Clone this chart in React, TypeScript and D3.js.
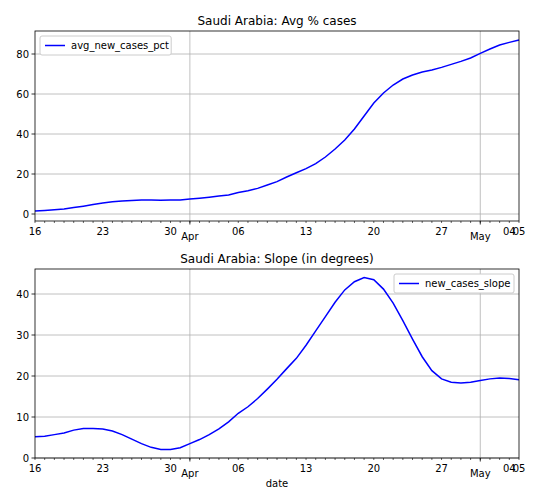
import React from "react"
import * as d3 from "d3"

const startDate = new Date(2020, 2, 16)
const avgNewCasesPct = [1.5, 1.8, 2.1, 2.5, 3.2, 3.9, 4.7, 5.5, 6.1, 6.5, 6.8, 7, 7, 6.9, 7, 7, 7.5, 7.9, 8.4, 9, 9.5, 10.7, 11.6, 12.8, 14.5, 16.2, 18.5, 20.6, 22.7, 25.2, 28.5, 32.5, 37, 42.5, 49, 55.5, 60.5, 64.5, 67.5, 69.5, 71, 72, 73.3, 74.8, 76.3, 78, 80.3, 82.5, 84.5, 85.8, 87]
const newCasesSlope = [5.2, 5.3, 5.7, 6.1, 6.8, 7.2, 7.2, 7.1, 6.6, 5.7, 4.6, 3.5, 2.6, 2.1, 2.1, 2.5, 3.5, 4.5, 5.7, 7.1, 8.8, 10.9, 12.5, 14.5, 16.8, 19.2, 21.8, 24.3, 27.5, 31, 34.5, 38, 41, 43, 44, 43.5, 41.2, 37.8, 33.5, 29, 24.7, 21.3, 19.3, 18.5, 18.3, 18.5, 18.9, 19.3, 19.5, 19.4, 19.1]
const minorLabels = ["16", "23", "30", "06", "13", "20", "27", "04", "05"]
const minorLabelDates = [16, 23, 30, 37, 44, 51, 58, 65, 66].map((d) => new Date(2020, 2, d))
const majorDates = [new Date(2020, 3, 1), new Date(2020, 4, 1)]
const majorLabels = ["Apr", "May"]

const dates = avgNewCasesPct.map((_, i) => d3.timeDay.offset(startDate, i))
const font = "DejaVu Sans, sans-serif"

function Panel({ top, bottom, title, values, yDomain, yTicks, legend, legendRight, showXLabel }: any) {
  const left = 35, right = 519
  const x = d3.scaleTime().domain([dates[0], dates[dates.length - 1]]).range([left, right])
  const y = d3.scaleLinear().domain(yDomain).range([bottom, top])
  const line = d3.line<number>().x((_, i) => x(dates[i])).y((d) => y(d))
  const lw = legend.length * 5.6 + 36
  const lx = legendRight ? right - 5 - lw : left + 5
  return (
    <g fontFamily={font}>
      <text x={(left + right) / 2} y={top - 6} textAnchor="middle" fontSize={12}>{title}</text>
      {yTicks.map((t: number) => (
        <g key={t}>
          <line x1={left} x2={right} y1={y(t)} y2={y(t)} stroke="#b0b0b0" strokeWidth={0.8} />
          <line x1={left - 3.5} x2={left} y1={y(t)} y2={y(t)} stroke="#000" strokeWidth={0.8} />
          <text x={left - 6} y={y(t) + 3.5} textAnchor="end" fontSize={10}>{t}</text>
        </g>
      ))}
      {majorDates.map((d, i) => (
        <g key={i}>
          <line x1={x(d)} x2={x(d)} y1={top} y2={bottom} stroke="#b0b0b0" strokeWidth={0.8} />
          <line x1={x(d)} x2={x(d)} y1={bottom} y2={bottom + 3.5} stroke="#000" strokeWidth={0.8} />
          <text x={x(d)} y={bottom + 19} textAnchor="middle" fontSize={10}>{majorLabels[i]}</text>
        </g>
      ))}
      {dates.map((d, i) => (
        <line key={i} x1={x(d)} x2={x(d)} y1={bottom} y2={bottom + 2} stroke="#000" strokeWidth={0.6} />
      ))}
      {minorLabelDates.map((d, i) => (
        <text key={i} x={x(d)} y={bottom + 14} textAnchor="middle" fontSize={10}>{minorLabels[i]}</text>
      ))}
      <path d={line(values) || ""} fill="none" stroke="blue" strokeWidth={1.5} />
      <rect x={left} y={top} width={right - left} height={bottom - top} fill="none" stroke="#000" strokeWidth={0.8} />
      <rect x={lx} y={top + 5} width={lw} height={19} fill="#fff" stroke="#ccc" rx={2} />
      <line x1={lx + 5} x2={lx + 25} y1={top + 14.5} y2={top + 14.5} stroke="blue" strokeWidth={1.5} />
      <text x={lx + 31} y={top + 18} fontSize={10}>{legend}</text>
      {showXLabel && <text x={(left + right) / 2} y={bottom + 29} textAnchor="middle" fontSize={10}>date</text>}
    </g>
  )
}

export default function App() {
  return (
    <svg width={540} height={504} style={{ display: "block", margin: -8 }}>
      <rect width={540} height={504} fill="#fff" />
      <Panel top={31} bottom={221} title="Saudi Arabia: Avg % cases" values={avgNewCasesPct}
        yDomain={[-3.5, 91.5]} yTicks={[0, 20, 40, 60, 80]} legend="avg_new_cases_pct" legendRight={false} />
      <Panel top={269} bottom={458} title="Saudi Arabia: Slope (in degrees)" values={newCasesSlope}
        yDomain={[0, 46.1]} yTicks={[0, 10, 20, 30, 40]} legend="new_cases_slope" legendRight={true} showXLabel />
    </svg>
  )
}
